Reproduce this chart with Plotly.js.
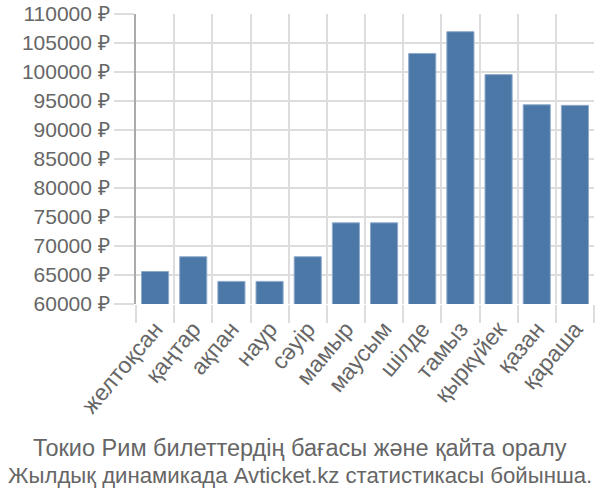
<!DOCTYPE html>
<html>
<head>
<meta charset="utf-8">
<script src="https://cdn.plot.ly/plotly-3.0.1.min.js"></script>
<style>html,body{margin:0;padding:0;background:#fff;}#chart{width:600px;height:500px;}</style>
</head>
<body>
<div id="chart"></div>
<script>
const months = ["желтоқсан","қаңтар","ақпан","наур","сәуір","мамыр","маусым","шілде","тамыз","қыркүйек","қазан","қараша"];
const prices = [65600, 68150, 63900, 63900, 68150, 74000, 74000, 103200, 106950, 99550, 94350, 94250];
const yTicks = [60000, 65000, 70000, 75000, 80000, 85000, 90000, 95000, 100000, 105000, 110000];
const yTickText = yTicks.map(v => v + " ₽");
const titleLines = ["Токио Рим билеттердің бағасы және қайта оралу", "Жылдық динамикада Avticket.kz статистикасы бойынша."];

const trace = {
  type: "bar",
  x: months,
  y: prices,
  base: 0,
  marker: {color: "#4c78a8", line: {color: "#8fabcc", width: 1}},
  hoverinfo: "x+y"
};

const pageCenterX = (300 - 136) / 458;

const layout = {
  width: 600, height: 500,
  margin: {l: 136, r: 6, t: 14, b: 196},
  paper_bgcolor: "#fff", plot_bgcolor: "#fff",
  font: {family: "Liberation Sans, Arial, sans-serif", color: "#666", size: 20},
  bargap: 0.29,
  showlegend: false,
  xaxis: {
    type: "category",
    tickangle: -50,
    tickson: "boundaries",
    ticks: "outside", ticklen: 18, tickcolor: "#ddd", tickwidth: 2,
    ticklabelstandoff: 6,
    showgrid: true, gridcolor: "#ddd", gridwidth: 2,
    showline: false,
    tickfont: {size: 23, color: "#666"},
    automargin: false
  },
  yaxis: {
    range: [60000, 110000],
    tickvals: yTicks, ticktext: yTickText,
    ticks: "outside", ticklen: 20, tickcolor: "#ddd", tickwidth: 2,
    showgrid: true, gridcolor: "#ddd", gridwidth: 2,
    showline: true, linecolor: "#aaa", linewidth: 2,
    zeroline: false,
    tickfont: {size: 21, color: "#666"},
    automargin: false
  },
  annotations: [
    {text: titleLines[0], xref: "paper", yref: "paper", x: pageCenterX, y: -0.495, xanchor: "center", yanchor: "middle", showarrow: false, font: {size: 23.5, color: "#666"}},
    {text: titleLines[1], xref: "paper", yref: "paper", x: pageCenterX, y: -0.592, xanchor: "center", yanchor: "middle", showarrow: false, font: {size: 22.2, color: "#666"}}
  ]
};

Plotly.newPlot("chart", [trace], layout, {displayModeBar: false, staticPlot: true});
</script>
</body>
</html>
